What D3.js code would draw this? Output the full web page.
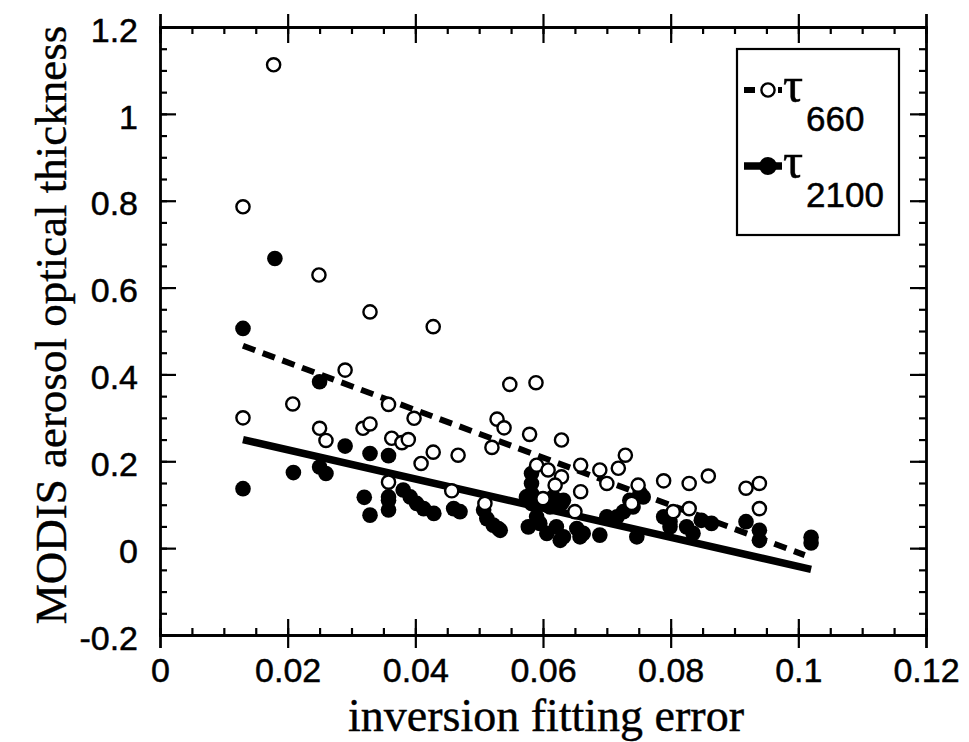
<!DOCTYPE html>
<html>
<head>
	<meta charset="utf-8">
	<title>MODIS aerosol optical thickness vs inversion fitting error</title>
	<script src="https://cdn.jsdelivr.net/npm/d3@7"></script>
	<style>
		html, body { margin: 0; padding: 0; background: #fff; }
		svg { display: block; }
		.tick text { font-family: "Liberation Sans", Arial, sans-serif; font-size: 34px; fill: #000; stroke: #000; stroke-width: 0.5px; }
		.domain { stroke: #000; stroke-width: 2.4px; }
		.tick line { stroke: #000; stroke-width: 2.2px; }
		.title { font-family: "Liberation Serif", "Times New Roman", serif; fill: #000; stroke: #000; stroke-width: 0.4px; }
	</style>
</head>
<body>
<div id="chart"></div>
<script>
// open circles: tau 660 nm  [fitting error, optical thickness]
var tau660 = [
	[0.0178,1.113],[0.013,0.786],[0.0249,0.629],[0.0329,0.544],[0.0428,0.510],
	[0.029,0.41],[0.0208,0.332],[0.013,0.30],[0.025,0.276],[0.026,0.248],
	[0.0318,0.276],[0.0329,0.286],[0.0358,0.331],[0.0363,0.253],[0.0379,0.243],
	[0.0389,0.250],[0.0398,0.299],[0.0428,0.221],[0.0409,0.195],[0.0358,0.152],
	[0.0467,0.214],[0.0457,0.132],[0.0548,0.377],[0.0589,0.381],[0.0528,0.297],
	[0.0539,0.277],[0.0579,0.262],[0.0629,0.249],[0.052,0.232],[0.0729,0.214],
	[0.0659,0.191],[0.0689,0.18],[0.0718,0.184],[0.0789,0.155],[0.0829,0.149],
	[0.0859,0.166],[0.0918,0.138],[0.0939,0.149],[0.0939,0.091],[0.0829,0.091],
	[0.0804,0.084],[0.059,0.191],[0.0608,0.18],[0.0629,0.164],[0.0619,0.145],
	[0.0659,0.13],[0.0749,0.145],[0.070,0.149],[0.0739,0.103],[0.0509,0.103],
	[0.060,0.114],[0.065,0.084]
];
// filled circles: tau 2100 nm
var tau2100 = [
	[0.013,0.506],[0.018,0.667],[0.025,0.383],[0.013,0.137],[0.0209,0.174],
	[0.025,0.187],[0.026,0.172],[0.029,0.235],[0.0329,0.218],[0.0358,0.213],
	[0.032,0.117],[0.0329,0.076],[0.0358,0.118],[0.0358,0.088],[0.0358,0.110],
	[0.0381,0.134],[0.0392,0.118],[0.0402,0.103],[0.0413,0.091],[0.0429,0.080],
	[0.046,0.091],[0.047,0.084],[0.0507,0.088],[0.0512,0.068],[0.0522,0.053],
	[0.053,0.045],[0.0533,0.041],[0.0582,0.172],[0.0582,0.149],[0.0582,0.126],
	[0.0582,0.103],[0.059,0.072],[0.0577,0.049],[0.0574,0.118],[0.0595,0.057],
	[0.0606,0.034],[0.0611,0.095],[0.0616,0.118],[0.0629,0.103],[0.0632,0.110],
	[0.0621,0.049],[0.0632,0.026],[0.0627,0.018],[0.0653,0.045],[0.0658,0.026],
	[0.0663,0.034],[0.0689,0.030],[0.070,0.072],[0.0716,0.072],[0.0726,0.084],
	[0.0736,0.110],[0.0741,0.095],[0.0757,0.118],[0.0752,0.127],[0.0747,0.026],
	[0.0789,0.072],[0.0799,0.061],[0.0799,0.049],[0.0825,0.049],[0.0835,0.034],
	[0.0848,0.064],[0.0864,0.057],[0.0918,0.061],[0.0939,0.041],[0.0939,0.018],
	[0.102,0.025],[0.102,0.012]
];
// linear fits (end points)
var fit660 = [[0.013,0.466],[0.101,-0.016]];
var fit2100 = [[0.013,0.250],[0.102,-0.049]];

var xTicks = [0, 0.02, 0.04, 0.06, 0.08, 0.1, 0.12];
var yTicks = [-0.2, 0, 0.2, 0.4, 0.6, 0.8, 1, 1.2];
var xMinor = d3.range(0, 0.1201, 0.005);
var yMinor = d3.range(-0.2, 1.2001, 0.05);

var W = 969, H = 742;
var svg = d3.select('#chart').append('svg').attr('width', W).attr('height', H);

var x = d3.scaleLinear().domain([0, 0.12]).range([160, 926]);
var y = d3.scaleLinear().domain([-0.2, 1.2]).range([635, 27]);

// plain hyphen for negatives, as on the original
function fmt(d) { return d === 0 ? '0' : String(+d.toFixed(2)); }

// minor ticks, all four sides, inward
svg.append('g').attr('transform', 'translate(0,' + y(-0.2) + ')')
	.call(d3.axisBottom(x).tickValues(xMinor).tickSize(-7).tickFormat(''));
svg.append('g').attr('transform', 'translate(0,' + y(1.2) + ')')
	.call(d3.axisTop(x).tickValues(xMinor).tickSize(-7).tickFormat(''));
svg.append('g').attr('transform', 'translate(' + x(0) + ',0)')
	.call(d3.axisLeft(y).tickValues(yMinor).tickSize(-7).tickFormat(''));
svg.append('g').attr('transform', 'translate(' + x(0.12) + ',0)')
	.call(d3.axisRight(y).tickValues(yMinor).tickSize(-7).tickFormat(''));

// major x ticks cross the frame
svg.append('g').attr('transform', 'translate(0,' + y(-0.2) + ')')
	.call(d3.axisBottom(x).tickValues(xTicks).tickSize(13).tickFormat(''));
svg.append('g').attr('transform', 'translate(0,' + y(1.2) + ')')
	.call(d3.axisTop(x).tickValues(xTicks).tickSize(13).tickFormat(''));

var xb = svg.append('g').attr('transform', 'translate(0,' + y(-0.2) + ')')
	.call(d3.axisBottom(x).tickValues(xTicks).tickSizeInner(-16).tickSizeOuter(0).tickFormat(fmt));
xb.selectAll('.tick text').attr('y', 23).attr('dy', '0.71em');
svg.append('g').attr('transform', 'translate(0,' + y(1.2) + ')')
	.call(d3.axisTop(x).tickValues(xTicks).tickSizeInner(-16).tickSizeOuter(0).tickFormat(''));
var yl = svg.append('g').attr('transform', 'translate(' + x(0) + ',0)')
	.call(d3.axisLeft(y).tickValues(yTicks).tickSizeInner(-16).tickSizeOuter(0).tickFormat(fmt));
yl.selectAll('.tick text').attr('x', -22).attr('dy', '0.42em');
svg.append('g').attr('transform', 'translate(' + x(0.12) + ',0)')
	.call(d3.axisRight(y).tickValues(yTicks).tickSizeInner(-16).tickSizeOuter(0).tickFormat(''));

svg.selectAll('.tick text').attr('fill', '#000');

// fit lines
var line = d3.line().x(function(d) { return x(d[0]); }).y(function(d) { return y(d[1]); });
svg.append('path').datum(fit2100).attr('d', line)
	.attr('fill', 'none').attr('stroke', '#000').attr('stroke-width', 7.5);
svg.append('path').datum(fit660).attr('d', line)
	.attr('fill', 'none').attr('stroke', '#000').attr('stroke-width', 6)
	.attr('stroke-dasharray', '13,8');

// points
svg.append('g').selectAll('circle').data(tau2100).enter().append('circle')
	.attr('cx', function(d) { return x(d[0]); })
	.attr('cy', function(d) { return y(d[1]); })
	.attr('r', 7.8).attr('fill', '#000');
svg.append('g').selectAll('circle').data(tau660).enter().append('circle')
	.attr('cx', function(d) { return x(d[0]); })
	.attr('cy', function(d) { return y(d[1]); })
	.attr('r', 6.6).attr('fill', '#fff').attr('stroke', '#000').attr('stroke-width', 2.4);

// axis titles
svg.append('text').attr('class', 'title')
	.attr('x', 546).attr('y', 731).attr('text-anchor', 'middle')
	.style('font-size', '46px').text('inversion fitting error');
svg.append('text').attr('class', 'title')
	.attr('transform', 'translate(66,325) rotate(-90)').attr('text-anchor', 'middle')
	.style('font-size', '45px').text('MODIS aerosol optical thickness');

// legend
var lg = svg.append('g');
lg.append('rect').attr('x', 737).attr('y', 49).attr('width', 162).attr('height', 186)
	.attr('fill', '#fff').attr('stroke', '#000').attr('stroke-width', 2.2);
var items = [
	{ sub: '660', dash: '11,6', w: 6, y: 90, filled: false },
	{ sub: '2100', dash: null, w: 7.5, y: 166, filled: true }
];
items.forEach(function(it) {
	lg.append('line').attr('x1', 744).attr('x2', 782).attr('y1', it.y).attr('y2', it.y)
		.attr('stroke', '#000').attr('stroke-width', it.w).attr('stroke-dasharray', it.dash);
	lg.append('circle').attr('cx', 768).attr('cy', it.y).attr('r', it.filled ? 7.8 : 6.6)
		.attr('fill', it.filled ? '#000' : '#fff').attr('stroke', '#000').attr('stroke-width', 2.4);
	lg.append('text').attr('x', 783).attr('y', it.y + 12)
		.style('font-family', '"Liberation Serif", serif').style('font-size', '50px')
		.style('stroke', '#000').style('stroke-width', '0.5px').text('\u03c4');
	lg.append('text').attr('x', 806).attr('y', it.y + 41)
		.style('font-family', '"Liberation Sans", Arial, sans-serif').style('font-size', '35px')
		.style('stroke', '#000').style('stroke-width', '0.5px').text(it.sub);
});
</script>
</body>
</html>
